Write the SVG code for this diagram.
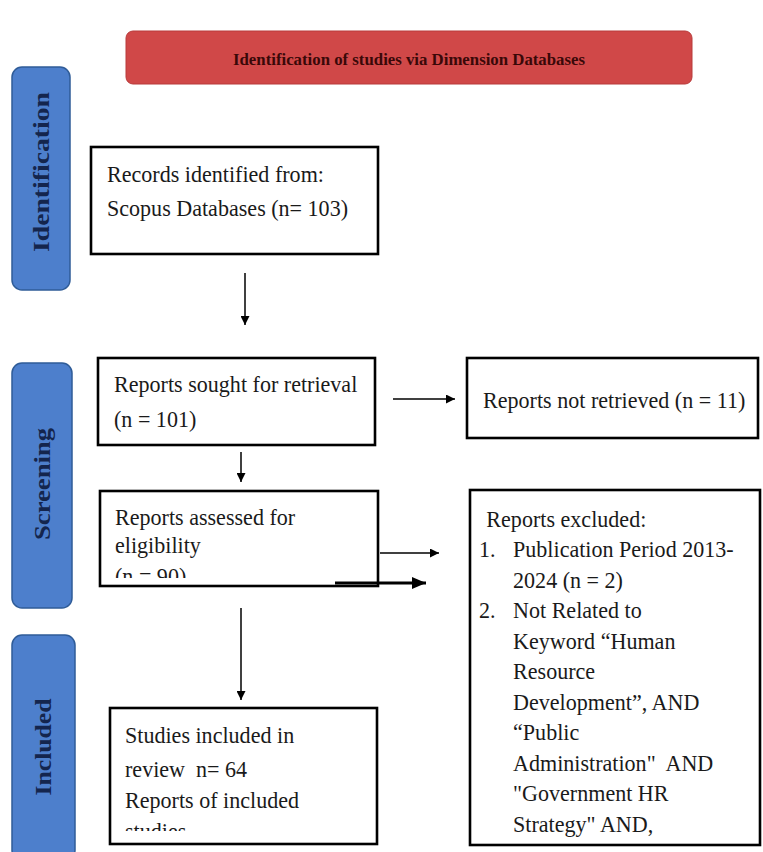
<svg xmlns="http://www.w3.org/2000/svg" width="763" height="852" viewBox="0 0 763 852">
<style>
.box{fill:#ffffff;stroke:#000000;stroke-width:2.6}
.t{font-family:"Liberation Serif","Times New Roman",serif;font-size:24px;fill:#1a1a1a}
.side{fill:#4d7fcc;stroke:#2f5c98;stroke-width:1.5}
.st{font-family:"Liberation Serif","Times New Roman",serif;font-weight:bold;font-size:24px;fill:#14254d}
.ln{stroke:#000000;stroke-width:1.5;fill:none}
</style>
<defs>
<marker id="ah" viewBox="0 0 10 10" refX="10" refY="5" markerWidth="9" markerHeight="9" markerUnits="userSpaceOnUse" orient="auto">
<path d="M0,0 L10,5 L0,10 Z" fill="#000"/>
</marker>
<marker id="ahb" viewBox="0 0 10 10" refX="10" refY="5" markerWidth="14" markerHeight="12" markerUnits="userSpaceOnUse" orient="auto" preserveAspectRatio="none">
<path d="M0,0 L10,5 L0,10 Z" fill="#000"/>
</marker>
<clipPath id="cA"><rect x="100" y="491" width="278" height="87"/></clipPath>
<clipPath id="cS"><rect x="110" y="708" width="267" height="123"/></clipPath>
<clipPath id="cE"><rect x="470" y="490" width="290" height="347"/></clipPath>
</defs>
<rect width="763" height="852" fill="#ffffff"/>

<g id="header">
<rect x="126" y="31" width="566" height="53" rx="7" fill="#d04848" stroke="#b83a3a" stroke-width="1"/>
<text x="409" y="65" text-anchor="middle" font-family="'Liberation Serif',serif" font-weight="bold" font-size="16" fill="#3a0808" textLength="352" lengthAdjust="spacingAndGlyphs">Identification of studies via Dimension Databases</text>
</g>

<g id="stage-identification">
<rect class="side" x="12" y="67" width="58" height="223" rx="10"/>
<text class="st" transform="translate(49,172) rotate(-90)" text-anchor="middle" textLength="160" lengthAdjust="spacingAndGlyphs">Identification</text>
</g>
<g id="stage-screening">
<rect class="side" x="12" y="363" width="60" height="245" rx="10"/>
<text class="st" transform="translate(50,484) rotate(-90)" text-anchor="middle" textLength="112" lengthAdjust="spacingAndGlyphs">Screening</text>
</g>
<g id="stage-included">
<rect class="side" x="12" y="635" width="63" height="225" rx="10"/>
<text class="st" transform="translate(51,747) rotate(-90)" text-anchor="middle" textLength="97" lengthAdjust="spacingAndGlyphs">Included</text>
</g>

<g id="records">
<rect class="box" x="91" y="147" width="287" height="107"/>
<g transform="matrix(0.92,0,0,1,8.56,0)">
<text class="t" x="107" y="182">Records identified from:</text>
<text class="t" x="107" y="216">Scopus Databases (n= 103)</text>
</g>
</g>

<g id="sought">
<rect class="box" x="98" y="358" width="277" height="87"/>
<g transform="matrix(0.92,0,0,1,9.12,0)">
<text class="t" x="114" y="392">Reports sought for retrieval</text>
<text class="t" x="114" y="427">(n = 101)</text>
</g>
</g>

<g id="not-retrieved">
<rect class="box" x="467" y="358" width="291" height="80"/>
<g transform="matrix(0.92,0,0,1,38.64,0)">
<text class="t" x="483" y="408">Reports not retrieved (n = 11)</text>
</g>
</g>

<g id="assessed">
<rect class="box" x="100" y="491" width="278" height="95"/>
<g clip-path="url(#cA)">
<g transform="matrix(0.92,0,0,1,9.2,0)">
<text class="t" x="115" y="525">Reports assessed for</text>
<text class="t" x="115" y="553">eligibility</text>
<text class="t" x="115" y="584">(n = 90)</text>
</g>
</g>
</g>

<g id="excluded">
<rect class="box" x="470" y="490" width="290" height="355"/>
<g clip-path="url(#cE)">
<g transform="matrix(0.92,0,0,1,38.32,0)">
<text class="t" x="487" y="527">Reports excluded:</text>
<text class="t" x="479" y="557.5">1.</text>
<text class="t" x="516" y="557.5">Publication Period 2013-</text>
<text class="t" x="516" y="588">2024 (n = 2)</text>
<text class="t" x="479" y="618.5">2.</text>
<text class="t" x="516" y="618.5">Not Related to</text>
<text class="t" x="516" y="649">Keyword “Human</text>
<text class="t" x="516" y="679.5">Resource</text>
<text class="t" x="516" y="710">Development”, AND</text>
<text class="t" x="516" y="740.5">“Public</text>
<text class="t" x="516" y="771" style="white-space:pre">Administration"  AND</text>
<text class="t" x="516" y="801.5">"Government HR</text>
<text class="t" x="516" y="832">Strategy" AND,</text>
</g>
</g>
</g>

<g id="studies">
<rect class="box" x="110" y="708" width="267" height="136"/>
<g clip-path="url(#cS)">
<g transform="matrix(0.92,0,0,1,10,0)">
<text class="t" x="125" y="743">Studies included in</text>
<text class="t" x="125" y="777" style="white-space:pre">review  n= 64</text>
<text class="t" x="125" y="808">Reports of included</text>
<text class="t" x="125" y="839">studies</text>
</g>
</g>
</g>

<g id="connectors">
<line class="ln" x1="245" y1="273" x2="245" y2="325" marker-end="url(#ah)"/>
<line class="ln" x1="393" y1="399" x2="455" y2="399" marker-end="url(#ah)"/>
<line class="ln" x1="241" y1="452" x2="241" y2="482" marker-end="url(#ah)"/>
<line class="ln" x1="380" y1="553" x2="439" y2="553" marker-end="url(#ah)"/>
<line x1="335" y1="583" x2="426" y2="583" stroke="#000" stroke-width="3" marker-end="url(#ahb)"/>
<line class="ln" x1="241" y1="608" x2="241" y2="700" marker-end="url(#ah)"/>
</g>
</svg>
